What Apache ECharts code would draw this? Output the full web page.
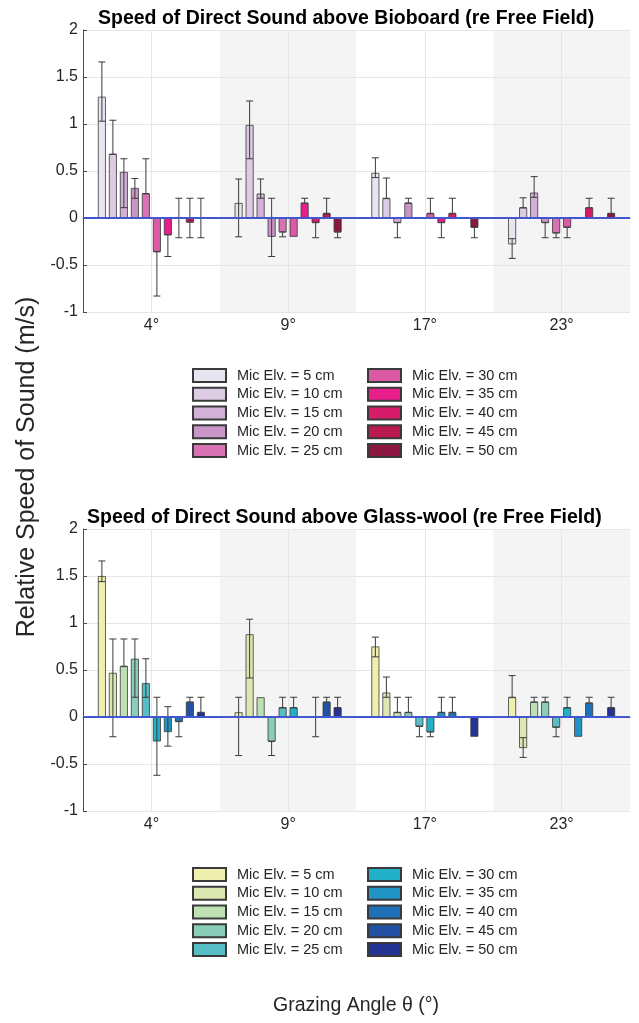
<!DOCTYPE html>
<html>
<head>
<meta charset="utf-8">
<script src="https://cdn.jsdelivr.net/npm/echarts@6/dist/echarts.min.js"></script>
<style>
html,body{margin:0;padding:0;background:#fff;}
#chart{width:639px;height:1023px;}
</style>
</head>
<body>
<div id="chart"></div>
<script>
// ---------- data ----------
const categories = ['4°', '9°', '17°', '23°'];
const micLabels = ['Mic Elv. = 5 cm', 'Mic Elv. = 10 cm', 'Mic Elv. = 15 cm', 'Mic Elv. = 20 cm', 'Mic Elv. = 25 cm',
                   'Mic Elv. = 30 cm', 'Mic Elv. = 35 cm', 'Mic Elv. = 40 cm', 'Mic Elv. = 45 cm', 'Mic Elv. = 50 cm'];
const titleBio = 'Speed of Direct Sound above Bioboard (re Free Field)';
const titleGw = 'Speed of Direct Sound above Glass-wool (re Free Field)';
const yAxisTitle = 'Relative Speed of Sound (m/s)';
const xAxisTitle = 'Grazing Angle θ (°)';

// Bioboard: one row per mic elevation, one value per grazing angle
const bioValues = [
  [1.29, 0.16, 0.48, -0.28],
  [0.68, 0.99, 0.21, 0.11],
  [0.49, 0.26, -0.05, 0.27],
  [0.32, -0.20, 0.16, -0.05],
  [0.26, -0.15, null, -0.16],
  [-0.36, -0.20, 0.05, -0.10],
  [-0.18, 0.16, -0.05, null],
  [null, -0.05, 0.05, 0.11],
  [-0.05, 0.05, null, null],
  [null, -0.15, -0.10, 0.05]
];
const bioErrLow = [
  [1.03, -0.20, 0.43, -0.43],
  [0.68, 0.63, 0.21, 0.11],
  [0.11, 0.21, -0.21, 0.22],
  [0.21, -0.41, 0.16, -0.21],
  [0.26, -0.20, null, -0.21],
  [-0.83, null, 0.05, -0.21],
  [-0.41, 0.16, -0.21, null],
  [-0.21, -0.21, 0.05, 0.11],
  [-0.21, 0.05, null, null],
  [-0.21, -0.21, -0.21, 0.05]
];
const bioErrHigh = [
  [1.66, 0.415, 0.64, -0.22],
  [1.04, 1.245, 0.425, 0.215],
  [0.63, 0.415, -0.05, 0.44],
  [0.42, 0.21, 0.21, -0.05],
  [0.63, -0.15, null, -0.16],
  [-0.36, null, 0.21, -0.10],
  [-0.18, 0.21, -0.05, null],
  [0.21, -0.05, 0.21, 0.21],
  [0.21, 0.21, null, null],
  [0.21, -0.15, -0.10, 0.21]
];

// Glass-wool
const gwValues = [
  [1.50, 0.05, 0.75, 0.21],
  [0.47, 0.88, 0.26, -0.33],
  [0.54, 0.21, 0.05, 0.16],
  [0.62, -0.26, 0.05, 0.16],
  [0.36, 0.10, -0.10, -0.11],
  [-0.26, 0.10, -0.16, 0.10],
  [-0.16, null, 0.05, -0.21],
  [-0.05, null, 0.05, 0.15],
  [0.16, 0.16, null, null],
  [0.05, 0.10, -0.21, 0.10]
];
const gwErrLow = [
  [1.44, -0.41, 0.64, 0.21],
  [-0.21, 0.415, 0.21, -0.43],
  [0.54, null, 0.05, 0.16],
  [0.21, -0.41, 0.05, 0.16],
  [0.21, 0.10, -0.21, -0.21],
  [-0.62, 0.10, -0.21, 0.10],
  [-0.31, null, 0.05, null],
  [-0.21, -0.21, 0.05, 0.15],
  [0.16, 0.16, null, null],
  [0.05, 0.10, null, 0.10]
];
const gwErrHigh = [
  [1.66, 0.21, 0.85, 0.44],
  [0.83, 1.04, 0.425, -0.22],
  [0.83, null, 0.21, 0.21],
  [0.83, -0.26, 0.21, 0.21],
  [0.62, 0.21, -0.10, -0.11],
  [0.21, 0.21, -0.16, 0.21],
  [0.11, null, 0.21, null],
  [-0.05, 0.21, 0.21, 0.21],
  [0.21, 0.21, null, null],
  [0.21, 0.21, null, 0.21]
];

const bioColors = ['#e8e4f0', '#dccbe2', '#d3b1d7', '#c995c6', '#d873b3', '#dc5aa5', '#e81f8b', '#d61b69', '#b8194e', '#8c1741'];
const gwColors = ['#eff0b0', '#dbe9b1', '#bfe1b2', '#8acdb9', '#56bec4', '#22afc8', '#2193c5', '#1e71b7', '#2251a4', '#243392'];

// ---------- styling constants ----------
const BAR_W = 8, BAR_GAP = 3;
const FONT = 'Liberation Sans, Arial, Helvetica, sans-serif';
const TXT = '#262626';
const GW_SUFFIX = '#gw';

const chart = echarts.init(document.getElementById('chart'), null, {renderer: 'canvas'});

function makeAxes(gi) {
  const x = {
    type: 'category', gridIndex: gi, data: categories, boundaryGap: true, z: 0,
    axisLine: {show: true, lineStyle: {color: '#4a4a4a', width: 1}},
    axisTick: {show: true, inside: true, alignWithLabel: true, length: 5, lineStyle: {color: '#4a4a4a'}},
    axisLabel: {fontFamily: FONT, fontSize: 16, color: TXT, margin: 6},
    splitLine: {show: false},
    splitArea: {show: true, areaStyle: {color: ['#ffffff', '#f4f4f4']}}
  };
  const y = {
    type: 'value', gridIndex: gi, min: -1, max: 2, interval: 0.5, z: 1,
    axisLine: {show: true, lineStyle: {color: '#4a4a4a', width: 1}},
    axisTick: {show: true, inside: true, length: 4, lineStyle: {color: '#4a4a4a'}},
    axisLabel: {fontFamily: FONT, fontSize: 16, color: TXT, margin: 5},
    splitLine: {show: true, lineStyle: {color: '#e6e6e6', width: 1}}
  };
  return [x, y];
}

function errRender(params, api) {
  const ci = api.value(0), lo = api.value(1), hi = api.value(2), si = api.value(3);
  const pLo = api.coord([ci, lo]);
  const pHi = api.coord([ci, hi]);
  const x = pLo[0] + (si - (micLabels.length - 1) / 2) * (BAR_W + BAR_GAP);
  const cap = 3.5;
  const st = {stroke: '#3a3a3a', lineWidth: 1, fill: null};
  return {
    type: 'group',
    children: [
      {type: 'line', shape: {x1: x, y1: pLo[1], x2: x, y2: pHi[1]}, style: st},
      {type: 'line', shape: {x1: x - cap, y1: pLo[1], x2: x + cap, y2: pLo[1]}, style: st},
      {type: 'line', shape: {x1: x - cap, y1: pHi[1], x2: x + cap, y2: pHi[1]}, style: st}
    ]
  };
}

function makeSeries(gi, values, lo, hi, colors, suffix) {
  const out = [];
  out.push({
    type: 'line', xAxisIndex: gi, yAxisIndex: gi, data: [], z: 1, silent: true,
    markLine: {
      silent: true, symbol: 'none', label: {show: false}, animation: false,
      lineStyle: {color: '#e6e6e6', width: 1, type: 'solid'},
      data: categories.map(c => ({xAxis: c}))
    }
  });
  values.forEach((row, si) => {
    out.push({
      type: 'bar', name: micLabels[si] + suffix, xAxisIndex: gi, yAxisIndex: gi,
      data: row, barWidth: BAR_W, barGap: (BAR_GAP / BAR_W * 100) + '%', z: 2,
      itemStyle: {color: colors[si], borderColor: '#3a3a3a', borderWidth: 0.8},
      animation: false
    });
  });
  const errData = [];
  lo.forEach((row, si) => row.forEach((v, ci) => {
    if (v !== null && hi[si][ci] !== null) errData.push([ci, v, hi[si][ci], si]);
  }));
  out.push({
    type: 'custom', xAxisIndex: gi, yAxisIndex: gi, renderItem: errRender, data: errData,
    encode: {x: 0, y: [1, 2]}, z: 3, silent: true, animation: false
  });
  out.push({
    type: 'line', xAxisIndex: gi, yAxisIndex: gi, data: [], z: 4, silent: true,
    markLine: {
      silent: true, symbol: 'none', label: {show: false}, animation: false,
      lineStyle: {color: '#4257cf', width: 2, type: 'solid'},
      data: [{yAxis: 0}]
    }
  });
  return out;
}

function makeLegend(names, left, top) {
  return {
    data: names, orient: 'vertical', left: left, top: top, icon: 'rect', padding: 0,
    itemWidth: 33, itemHeight: 13, itemGap: 3.75, selectedMode: false,
    formatter: n => n.replace(GW_SUFFIX, ''),
    textStyle: {fontFamily: FONT, fontSize: 14.5, lineHeight: 14, color: TXT, padding: [0, 0, 0, 6]}
  };
}

const [x0, y0] = makeAxes(0);
const [x1, y1] = makeAxes(1);

const titleStyle = {fontFamily: FONT, fontSize: 19.5, fontWeight: 'bold', color: '#000'};

const option = {
  backgroundColor: '#ffffff',
  animation: false,
  title: [
    {text: titleBio, left: 98, top: 9, padding: 0, textStyle: titleStyle},
    {text: titleGw, left: 87, top: 508, padding: 0, textStyle: titleStyle}
  ],
  grid: [
    {left: 83, right: 9, top: 30, height: 282},
    {left: 83, right: 9, top: 529, height: 282}
  ],
  xAxis: [x0, x1],
  yAxis: [y0, y1],
  legend: [
    makeLegend(micLabels.slice(0, 5), 192, 368),
    makeLegend(micLabels.slice(5), 367, 368),
    makeLegend(micLabels.slice(0, 5).map(n => n + GW_SUFFIX), 192, 867),
    makeLegend(micLabels.slice(5).map(n => n + GW_SUFFIX), 367, 867)
  ],
  graphic: [
    {type: 'text', x: 27, y: 467, rotation: Math.PI / 2,
     style: {text: yAxisTitle, fontFamily: FONT, fontSize: 25, fill: TXT, textAlign: 'center', textVerticalAlign: 'middle'}},
    {type: 'text', x: 356, y: 1006,
     style: {text: xAxisTitle, fontFamily: FONT, fontSize: 19.5, fill: TXT, textAlign: 'center', textVerticalAlign: 'middle'}}
  ],
  series: [].concat(
    makeSeries(0, bioValues, bioErrLow, bioErrHigh, bioColors, ''),
    makeSeries(1, gwValues, gwErrLow, gwErrHigh, gwColors, GW_SUFFIX)
  )
};
chart.setOption(option);
</script>
</body>
</html>
